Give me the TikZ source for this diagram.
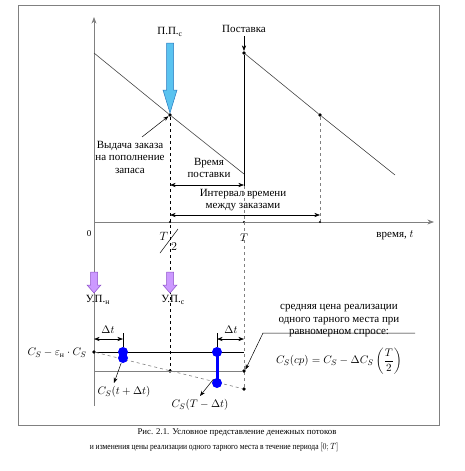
\documentclass[tikz,border=0pt]{standalone}
\usepackage{fontspec}
\setmainfont{Liberation Serif}
\usepackage{amsmath}
\usetikzlibrary{arrows.meta,positioning,calc}

\begin{document}
\begin{tikzpicture}[x=1pt, y=-1pt, >=Stealth, font=\fontsize{11}{12.5}\selectfont]
  \tikzset{
    frame/.style={draw=gray, line width=1pt},
    axis/.style={draw=gray, line width=0.8pt},
    stock/.style={draw=gray!55!black, line width=0.6pt},
    guide/.style={draw=gray, dashed, line width=0.6pt},
    blackguide/.style={draw=black, dashed, line width=0.6pt},
    dot/.style={circle, fill=black, minimum size=3.6pt, inner sep=0pt},
    tick/.style={circle, fill=black, minimum size=2.4pt, inner sep=0pt},
    bead/.style={circle, fill=blue, minimum size=10pt, inner sep=0pt},
    span/.style={<->, line width=0.6pt},
    txt/.style={align=center, inner sep=1pt},
    captxt/.style={inner sep=0pt, font=\fontsize{8.8}{10}\selectfont},
    fat blue/.style={fill={rgb,255:red,90;green,195;blue,240}, draw={rgb,255:red,40;green,120;blue,190}, line width=0.5pt},
    fat violet/.style={fill={rgb,255:red,204;green,153;blue,255}, draw={rgb,255:red,140;green,80;blue,200}, line width=0.5pt}
  }
  \useasboundingbox (0,0) rectangle (465,471);
  \draw[frame] (18,5) rectangle (439,425);

  % axes
  \coordinate (O) at (94,222);
  \coordinate (Ytop) at (94,17);
  \coordinate (Ybot) at (94,406);
  \coordinate (Xend) at (434,222);
  \draw[axis, ->] (Ybot) -- (Ytop);
  \draw[axis, ->] (O) -- (Xend);
  \node (zero) at (89,234) {\fontsize{9}{10}\selectfont 0};
  \node (Thalf) at (164,236) {\fontsize{12}{13}\selectfont$T$};
  \node (two) at (174,247) {\fontsize{12}{13}\selectfont$2$};
  \draw[line width=0.5pt] (160,253) -- (178,229);
  \node (Tlab) at (244,238) {$T$};
  \node (tlab) at (395,235) {время,~$t$};

  % stock lines
  \coordinate (S0) at (94,53);
  \coordinate (S1) at (244,174);
  \coordinate (R0) at (244,53);
  \coordinate (R1) at (395,175);
  \node[dot] (A) at (170,115) {};
  \node[dot] (B) at (320,115) {};
  \draw[stock] (S0) -- (A) -- (S1);
  \draw[stock] (R0) -- (B) -- (R1);

  \node[tick] (xa) at (170,222) {};
  \node[tick] (xt) at (244,222) {};
  \node[tick] (xb) at (320,222) {};

  % delivery
  \node (deliv) at (244,29) {Поставка};
  \node[dot] (R0d) at (R0) {};
  \draw[->, line width=0.6pt] (deliv.south) -- (R0d);
  \coordinate (Tmid) at (244,186);
  \coordinate (Tend) at (244,390);
  \draw[line width=0.6pt] (R0d) -- (Tmid);
  \draw[guide] (Tmid) -- (Tend);
  \draw[guide] (B) -- (xb);

  % order point
  \node (pps) at (170,32) {П.П.\textsubscript{с}};
  \draw[fat blue] (166.5,43) -- (173.5,43) -- (173.5,90) -- (177,90) -- (170,113)
    -- (163,90) -- (166.5,90) -- cycle;
  \node[txt] (order) at (130,157) {Выдача заказа\\на пополнение\\запаса};
  \draw[->, line width=0.5pt] (142,137) -- (A);

  \coordinate (Alow) at (170,371);
  \draw[blackguide] (A) -- (Alow);

  \node[txt] (leadt) at (209,168) {Время\\поставки};
  \draw[span] (170,185) -- (244,185);
  \node[txt] (cycle) at (243,200) {Интервал времени\\между заказами};
  \draw[span] (170,215) -- (320,215);

  % lower part
  \draw[fat violet] (90.5,272) -- (97.5,272) -- (97.5,285) -- (101,285) -- (94,293)
    -- (87,285) -- (90.5,285) -- cycle;
  \draw[fat violet] (166.5,272) -- (173.5,272) -- (173.5,285) -- (177,285) -- (170,293)
    -- (163,285) -- (166.5,285) -- cycle;
  \node (upn) at (98,300) {У.П.\textsubscript{н}};
  \node (ups) at (173,300) {У.П.\textsubscript{с}};

  \node[dot] (L0) at (94,352) {};
  \coordinate (L1) at (244,352);
  \node[dot] (M0) at (170,371) {};
  \node[dot] (M1) at (244,371) {};
  \node[dot] (N1) at (244,389) {};
  \draw[line width=0.6pt] (L0) -- (L1);
  \draw[draw=gray, line width=0.6pt] (94,371) -- (M1);
  \draw[guide] (L0) -- (N1);

  \node[bead] (b1) at (123,352) {};
  \node[bead] (b2) at (123,358) {};
  \node[bead] (b3) at (217,352) {};
  \node[bead] (b4) at (217,383) {};
  \draw[blue, line width=3pt] (b1.center) -- (b2.center);
  \draw[blue, line width=3pt] (b3.center) -- (b4.center);
  \draw[line width=0.5pt] (123,333) -- (b1);
  \draw[line width=0.5pt] (217,333) -- (b3);
  \draw[span] (94,339) -- (123,339);
  \draw[span] (217,339) -- (244,339);
  \node (dt1) at (108,330) {$\Delta t$};
  \node (dt2) at (231,330) {$\Delta t$};

  \node[anchor=east] (cs) at (90,353) {$C_S-\varepsilon_{\text{н}}\cdot C_S$};
  \node (cplus) at (124,392) {$C_S(t+\Delta t)$};
  \node (cminus) at (200,405) {$C_S(T-\Delta t)$};
  \draw[->, line width=0.5pt] (b2) -- (cplus.north -| 114,0);
  \draw[->, line width=0.5pt] (b4.north west) -- (cminus.north);

  \node[txt] (mean) at (339,321) {средняя цена реализации\\одного тарного места при\\равномерном спросе:};
  \draw[->, line width=0.5pt] (415,333) -- (263,333) -- (M1.north east);
  \node[inner sep=0pt] (meanf) at (339,361) {$C_S(cp)=C_S-\Delta C_S\left(\dfrac{T}{2}\right)$};

  % caption
  \node[captxt] (cap1) at (237,433) {Рис. 2.1. Условное представление денежных потоков};
  \node[captxt] (cap2) at (214,447) {\scalebox{0.86}[1]{и изменения цены реализации одного тарного места в течение периода $[0;T]$}};
\end{tikzpicture}
\end{document}
